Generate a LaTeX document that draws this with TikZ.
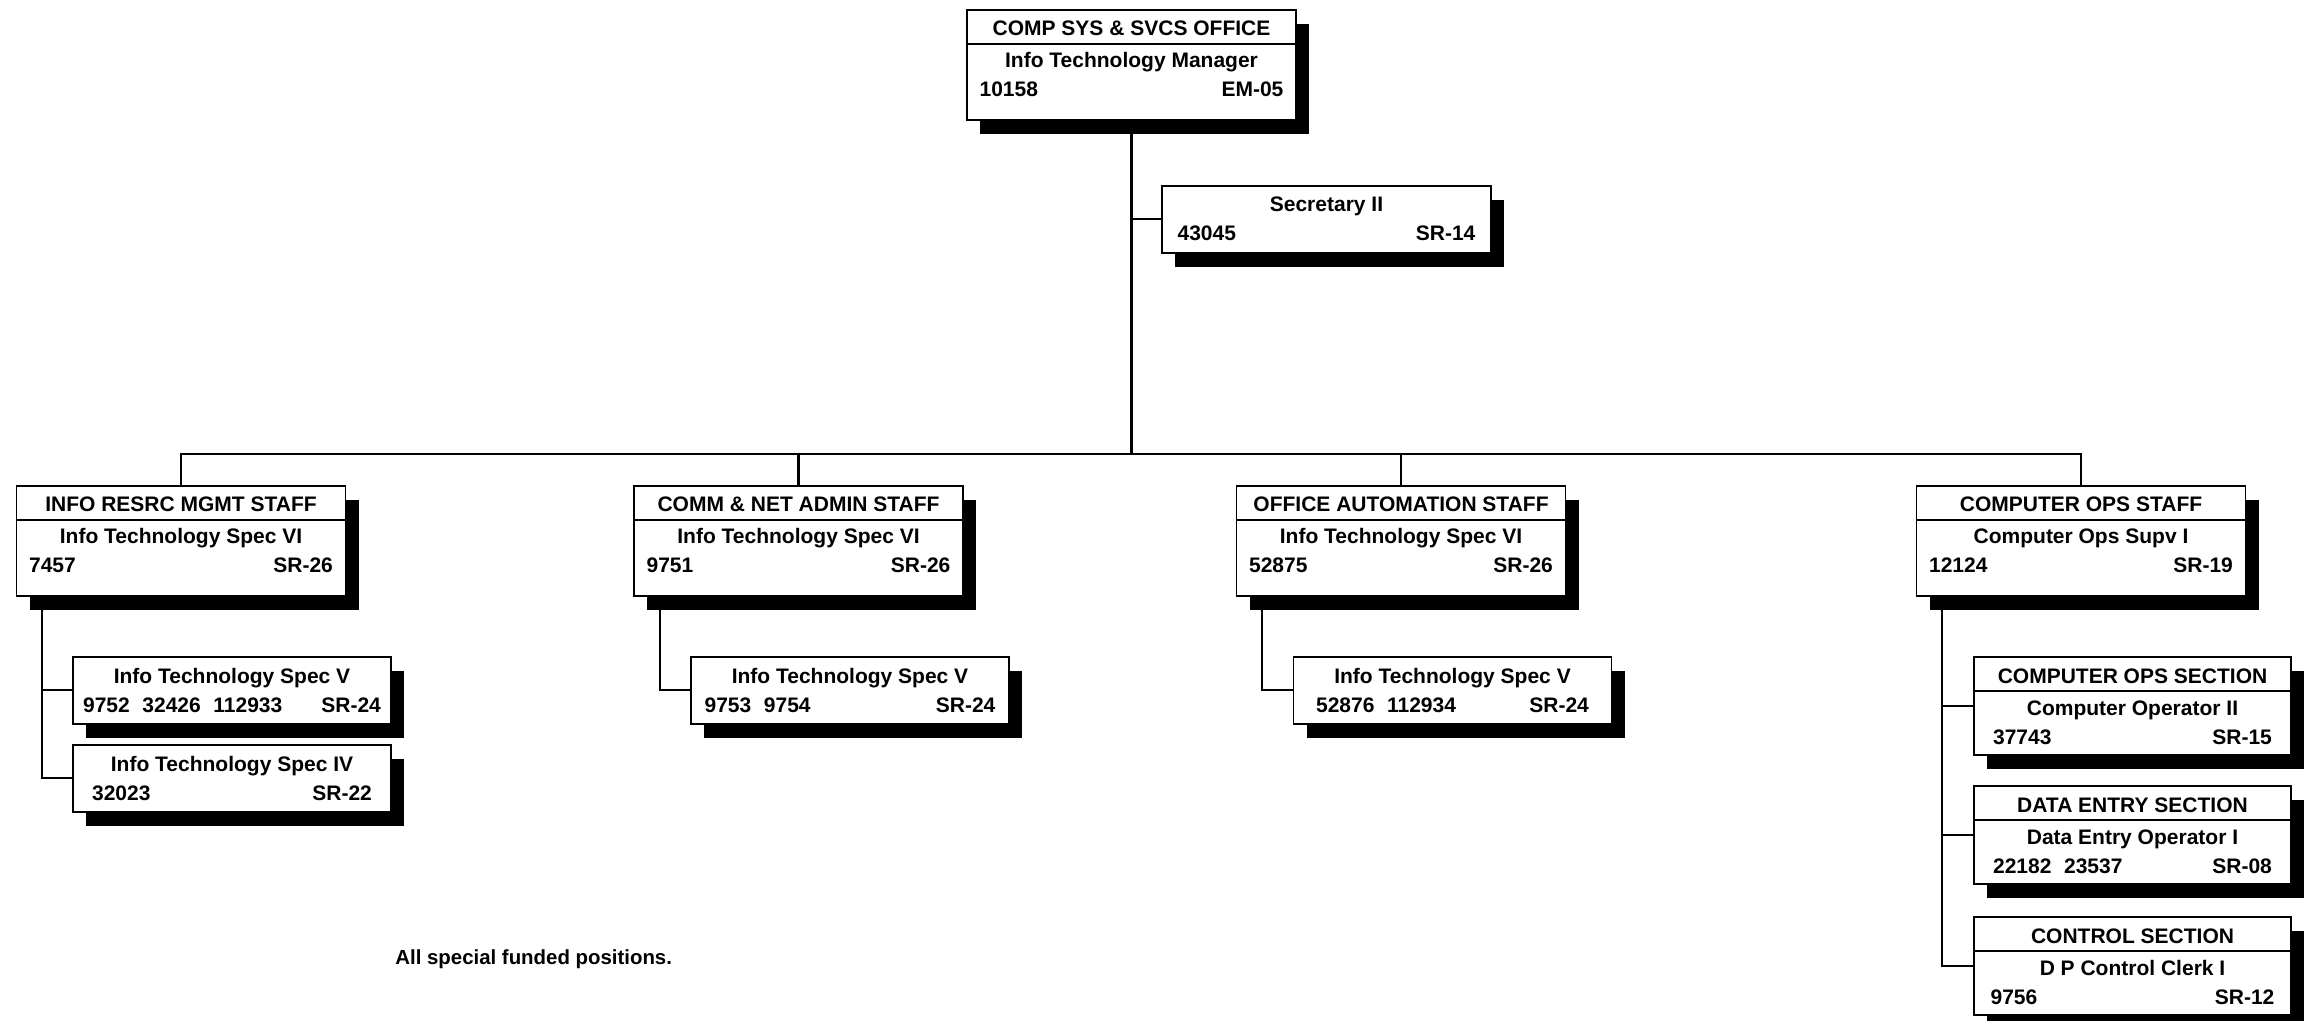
\documentclass[tikz,border=0pt]{standalone}
\usepackage{fontspec}
\setmainfont{Liberation Sans}
\usetikzlibrary{shadows}

\tikzset{
  unit/.style={draw, line width=0.8pt, fill=white, inner sep=0pt, anchor=north,
    drop shadow={shadow xshift=6.5pt, shadow yshift=-7pt, fill=black, opacity=1}},
  staff/.style={unit, minimum width=164.5pt, minimum height=55pt},
  section/.style={unit, minimum width=158.5pt, minimum height=49pt},
  post/.style={unit, minimum width=159pt, minimum height=33.5pt},
  txt/.style={font=\bfseries\fontsize{10.5}{12}\selectfont, inner sep=0pt, anchor=base},
  rule/.style={line width=0.8pt},
  link/.style={line width=1.1pt},
}

% [inset] style, name, top centre, header, title, numbers, grade
\newcommand{\headunit}[8][6.5pt]{%
  \node[#2] (#3) at (#4) {};
  \draw[rule] ([yshift=-17.5pt]#3.north west) -- ([yshift=-17.5pt]#3.north east);
  \node[txt] (#3-h) at ([yshift=-13.5pt]#3.north) {#5};
  \node[txt] (#3-t) at ([yshift=-29.5pt]#3.north) {#6};
  \node[txt, anchor=base west] (#3-n) at ([xshift=#1, yshift=-44pt]#3.north west) {#7};
  \node[txt, anchor=base east] (#3-g) at ([xshift=-#1, yshift=-44pt]#3.north east) {#8};
}
% [inset] style, name, top centre, title, numbers, grade
\newcommand{\postunit}[7][6.5pt]{%
  \node[#2] (#3) at (#4) {};
  \node[txt] (#3-t) at ([yshift=-13.5pt]#3.north) {#5};
  \node[txt, anchor=base west] (#3-n) at ([xshift=#1, yshift=-28pt]#3.north west) {#6};
  \node[txt, anchor=base east] (#3-g) at ([xshift=-#1, yshift=-28pt]#3.north east) {#7};
}
\newcommand{\numgap}{\hspace{0.6em}}

\begin{document}
\begin{tikzpicture}[x=0.5pt, y=-0.5pt]
  \useasboundingbox (0,0) rectangle (2309,1021);

  % office and secretary
  \headunit{staff}{office}{1131.5,9}{COMP SYS \& SVCS OFFICE}{Info Technology Manager}{10158}{EM-05}
  \postunit[8pt]{post, minimum width=164.5pt}{secy}{1326.5,185}{Secretary II}{43045}{SR-14}

  % staffs
  \headunit{staff}{irm}{181,485}{INFO RESRC MGMT STAFF}{Info Technology Spec VI}{7457}{SR-26}
  \headunit{staff}{comm}{798.5,485}{COMM \& NET ADMIN STAFF}{Info Technology Spec VI}{9751}{SR-26}
  \headunit{staff}{oa}{1401,485}{OFFICE AUTOMATION STAFF}{Info Technology Spec VI}{52875}{SR-26}
  \headunit{staff}{cops}{2081,485}{COMPUTER OPS STAFF}{Computer Ops Supv I}{12124}{SR-19}

  % positions under the staffs
  \postunit[5.25pt]{post}{itsv1}{232,656}{Info Technology Spec V}{9752\numgap 32426\numgap 112933}{SR-24}
  \postunit[9.75pt]{post}{itsiv1}{232,744}{Info Technology Spec IV}{32023}{SR-22}
  \postunit[7pt]{post}{itsv2}{850,656}{Info Technology Spec V}{9753\numgap 9754}{SR-24}
  \postunit[11.5pt]{post}{itsv3}{1452.5,656}{Info Technology Spec V}{52876\numgap 112934}{SR-24}

  % sections
  \headunit[9.75pt]{section}{opsec}{2132.5,656}{COMPUTER OPS SECTION}{Computer Operator II}{37743}{SR-15}
  \headunit[9.75pt]{section}{desec}{2132.5,785}{DATA ENTRY SECTION}{Data Entry Operator I}{22182\numgap 23537}{SR-08}
  \headunit[8.5pt]{section}{ctlsec}{2132.5,916}{CONTROL SECTION}{D P Control Clerk I}{9756}{SR-12}

  % lines
  \coordinate (bus) at (1131.5,454);
  \draw[link] (office.south) -- (bus);
  \draw[link] (office.south |- secy.west) -- (secy.west);
  \draw[link] (irm.north) -- (irm.north |- bus) -- (cops.north |- bus) -- (cops.north);
  \draw[link] (comm.north) -- (comm.north |- bus);
  \draw[link] (oa.north) -- (oa.north |- bus);

  \draw[link] ([xshift=13pt]irm.south west) |- (itsv1.west);
  \draw[link] ([xshift=13pt]irm.south west) |- (itsiv1.west);
  \draw[link] ([xshift=13.5pt]comm.south west) |- (itsv2.west);
  \draw[link] ([xshift=13pt]oa.south west) |- (itsv3.west);
  \draw[link] ([xshift=13pt]cops.south west) |- (opsec.west);
  \draw[link] ([xshift=13pt]cops.south west) |- (desec.west);
  \draw[link] ([xshift=13pt]cops.south west) |- (ctlsec.west);

  \node[txt, anchor=base west, font=\bfseries\fontsize{10.2}{12}\selectfont] (note) at (395,964) {All special funded positions.};
\end{tikzpicture}
\end{document}
